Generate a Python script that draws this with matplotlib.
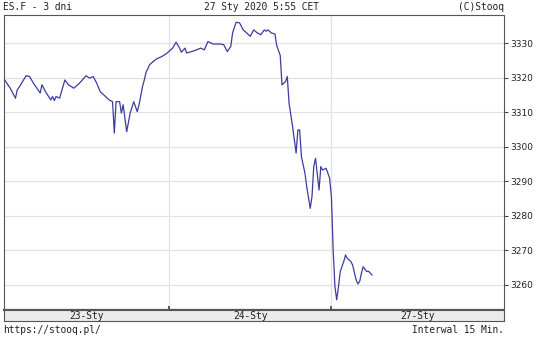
import matplotlib.pyplot as plt

# 15-min bars since start of 23-Sty session, price
bars = [0, 3, 6, 7, 9, 10, 12, 14, 16, 20, 21, 23, 26, 27, 28, 29, 31, 34, 36, 39,
        42, 46, 48, 50, 52, 54, 57, 59, 61, 62, 63, 65, 66, 67, 69, 71, 73, 75, 76, 78,
        79, 80, 82, 84, 86, 89, 92, 95, 97, 99, 100, 102, 103, 107, 111, 113, 115, 118, 122, 124,
        126, 128, 129, 131, 133, 135, 137, 139, 141, 143, 145, 147, 148, 149, 151, 153, 154, 156, 157, 159,
        160, 161, 163, 165, 166, 167, 168, 170, 171, 173, 174, 175, 176, 178, 179, 180, 182, 184, 185, 186,
        187, 188, 189, 190, 192, 193, 194, 196, 197, 199, 200, 201, 202, 203, 205, 206, 208]
prices = [3319.3, 3317.0, 3314.1, 3316.5, 3318.0, 3318.9, 3320.6, 3320.4, 3318.6, 3315.6,
          3318.0, 3316.0, 3313.6, 3314.6, 3313.4, 3314.6, 3314.1, 3319.4, 3318.0, 3317.0,
          3318.3, 3320.6, 3319.9, 3320.4, 3318.5, 3316.0, 3314.6, 3313.6, 3313.1, 3304.0,
          3313.1, 3313.1, 3309.8, 3312.2, 3304.4, 3309.8, 3313.1, 3310.2, 3312.2, 3317.5,
          3319.4, 3321.6, 3323.8, 3324.7, 3325.5, 3326.2, 3327.2, 3328.6, 3330.3, 3328.6,
          3327.4, 3328.6, 3327.2, 3327.8, 3328.6, 3328.1, 3330.5, 3329.8, 3329.8, 3329.6,
          3327.6, 3329.1, 3333.0, 3336.1, 3335.9, 3333.9, 3333.0, 3332.0, 3333.9, 3333.0,
          3332.5, 3333.9, 3333.5, 3333.9, 3333.0, 3332.7, 3329.4, 3326.5, 3318.0, 3318.9,
          3320.4, 3312.7, 3305.9, 3298.2, 3304.9, 3304.9, 3297.2, 3292.4, 3288.5, 3282.2,
          3285.6, 3294.3, 3296.7, 3287.5, 3294.3, 3293.3, 3293.8, 3290.9, 3285.6, 3270.0,
          3259.5, 3255.7, 3259.5, 3263.9, 3266.8, 3268.7, 3267.7, 3266.8, 3265.8, 3261.5,
          3260.3, 3261.0, 3263.4, 3265.3, 3263.9, 3264.0, 3262.9]

day_starts = [93, 185]
day_labels = ["23-Sty", "24-Sty", "27-Sty"]
y_ticks = [3260, 3270, 3280, 3290, 3300, 3310, 3320, 3330]

W, H = 536, 337
fig = plt.figure(figsize=(W / 100, H / 100), dpi=100)
fig.patch.set_facecolor("white")

x0, x1 = -0.5, 282.5
left, right, top, bot = 4, 503.5, 15, 309.5
ax = fig.add_axes([left / W, 1 - bot / H, (right - left) / W, (bot - top) / H])
ax.set_xlim(x0, x1)
ax.set_ylim(3252.9, 3338.2)
for y in y_ticks:
    ax.axhline(y, color="#e2e2e2", lw=0.9, zorder=0)
for d in day_starts:
    ax.axvline(d, color="#e2e2e2", lw=0.9, zorder=0)
ax.plot(bars, prices, color="#3c3ca0", lw=0.9)

ax.yaxis.tick_right()
ax.set_yticks(y_ticks)
ax.set_yticklabels([str(v) for v in y_ticks], fontsize=6.5, color="#222222")
ax.tick_params(axis="y", length=3, width=0.8, color="#444444", pad=2)
ax.set_xticks(day_starts)
ax.set_xticklabels([])
ax.tick_params(axis="x", direction="in", length=3, width=1.2, color="#444444")
for side in ["top", "left", "right"]:
    ax.spines[side].set_color("#555555")
    ax.spines[side].set_linewidth(0.8)
ax.spines["bottom"].set_color("#555555")
ax.spines["bottom"].set_linewidth(1.6)

# date strip under the plot
sbot = 321
sx = fig.add_axes([left / W, 1 - sbot / H, (right - left) / W, (sbot - bot) / H])
sx.set_facecolor("#ebebeb")
sx.set_xlim(x0, x1)
sx.set_ylim(0, 1)
sx.set_xticks([])
sx.set_yticks([])
for side in ["top", "bottom", "left", "right"]:
    sx.spines[side].set_color("#555555")
    sx.spines[side].set_linewidth(0.8)
edges = [x0] + day_starts + [x1]
for i, lab in enumerate(day_labels):
    sx.text((edges[i] + edges[i + 1]) / 2, 0.45, lab, ha="center", va="center",
            fontsize=6.9, family="DejaVu Sans Mono", color="#222222")

mono = dict(fontsize=6.9, family="DejaVu Sans Mono", color="#222222", va="center")
fig.text(3 / W, 1 - 7 / H, "ES.F - 3 dni", ha="left", **mono)
fig.text(261 / W, 1 - 7 / H, "27 Sty 2020 5:55 CET", ha="center", **mono)
fig.text(503.5 / W, 1 - 7 / H, "(C)Stooq", ha="right", **mono)
fig.text(3 / W, 1 - 330 / H, "https://stooq.pl/", ha="left", **mono)
fig.text(503.5 / W, 1 - 330 / H, "Interwal 15 Min.", ha="right", **mono)

fig.savefig("out.png", dpi=100)
